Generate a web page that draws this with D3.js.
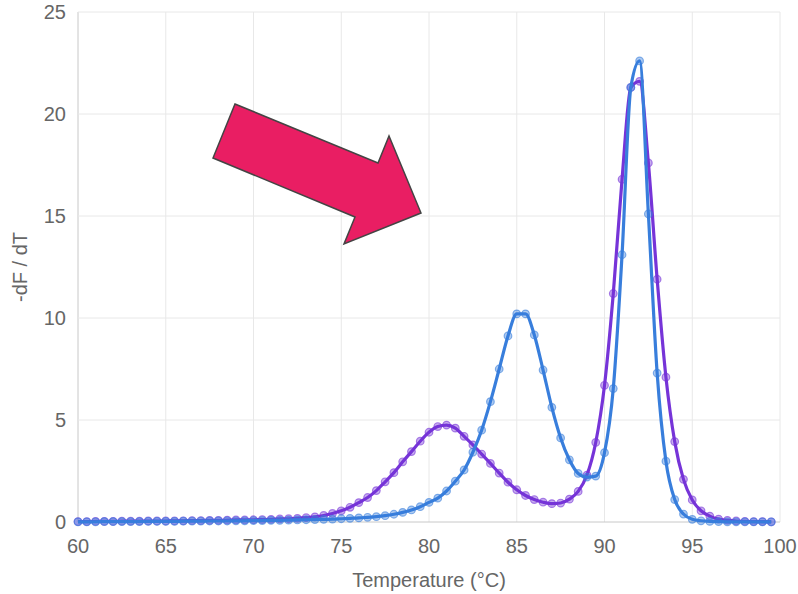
<html>
<meta charset="utf-8">
<script src="https://cdn.jsdelivr.net/npm/d3@7"></script>
<style>
  body { margin: 0; background: white; }
  text { font-family: "Liberation Sans", Arial, sans-serif; fill: #666; }
</style>
<body>
<div id="chart"></div>
<script>

// temperature in degrees C, one reading every half degree
var temps = [60,60.5,61,61.5,62,62.5,63,63.5,64,64.5,
             65,65.5,66,66.5,67,67.5,68,68.5,69,69.5,
             70,70.5,71,71.5,72,72.5,73,73.5,74,74.5,
             75,75.5,76,76.5,77,77.5,78,78.5,79,79.5,
             80,80.5,81,81.5,82,82.5,83,83.5,84,84.5,
             85,85.5,86,86.5,87,87.5,88,88.5,89,89.5,
             90,90.5,91,91.5,92,92.5,93,93.5,94,94.5,
             95,95.5,96,96.5,97,97.5,98,98.5,99,99.5]

var purpleVals = [0.02,0.02,0.03,0.03,0.03,0.04,0.04,0.04,0.05,0.05,
                  0.05,0.06,0.06,0.07,0.07,0.08,0.08,0.09,0.10,0.10,
                  0.11,0.12,0.13,0.15,0.16,0.18,0.21,0.25,0.32,0.42,
                  0.55,0.72,0.95,1.20,1.54,1.97,2.42,2.95,3.45,3.96,
                  4.40,4.68,4.75,4.60,4.20,3.78,3.33,2.87,2.40,1.95,
                  1.58,1.30,1.10,0.97,0.90,0.93,1.12,1.50,2.30,3.90,
                  6.70,11.2,16.8,21.3,21.6,17.6,11.9,7.10,3.94,2.09,
                  1.08,0.55,0.29,0.14,0.08,0.05,0.03,0.02,0.02,0.01]

var blueVals = [0.01,0.01,0.01,0.02,0.02,0.02,0.02,0.02,0.03,0.03,
                0.03,0.03,0.04,0.04,0.04,0.05,0.05,0.05,0.06,0.06,
                0.07,0.07,0.08,0.08,0.09,0.10,0.11,0.12,0.13,0.14,
                0.16,0.18,0.20,0.23,0.26,0.31,0.38,0.47,0.59,0.75,
                0.96,1.17,1.52,2.00,2.55,3.42,4.50,5.90,7.50,9.12,
                10.2,10.2,9.17,7.45,5.62,4.12,3.05,2.38,2.20,2.25,
                3.40,6.54,13.1,21.3,22.6,15.1,7.30,2.98,1.10,0.39,
                0.13,0.06,0.03,0.02,0.01,0.01,0.01,0.01,0.01,0.01]

var xTicks = [60,65,70,75,80,85,90,95,100]
var yTicks = [0,5,10,15,20,25]

var series = [
  {name:"purple", vals:purpleVals, col:"rgb(118,52,216)"},
  {name:"blue", vals:blueVals, col:"rgb(56,126,220)"}
]

var W = 798, H = 594
var margin = {left:78, right:18, top:12, bottom:72}

var svg = d3.select("#chart").append("svg").attr("width",W).attr("height",H)

var x = d3.scaleLinear().domain([60,100]).range([margin.left, W-margin.right])
var y = d3.scaleLinear().domain([0,25]).range([H-margin.bottom, margin.top])

// grid
svg.append("g").selectAll("line").data(xTicks).enter().append("line")
  .attr("x1",d=>x(d)).attr("x2",d=>x(d))
  .attr("y1",y(25)).attr("y2",y(0))
  .attr("stroke",d=> d==60 ? "#c8c8c8" : "#e8e8e8").attr("stroke-width",1)
svg.append("g").selectAll("line").data(yTicks).enter().append("line")
  .attr("x1",x(60)).attr("x2",x(100))
  .attr("y1",d=>y(d)).attr("y2",d=>y(d))
  .attr("stroke",d=> d==0 ? "#c8c8c8" : "#e8e8e8").attr("stroke-width",1)

// tick labels
svg.append("g").selectAll("text").data(yTicks).enter().append("text")
  .attr("x",x(60)-12).attr("y",d=>y(d)).attr("dy","0.35em")
  .attr("text-anchor","end").style("font-size","20px").text(d=>d)
svg.append("g").selectAll("text").data(xTicks).enter().append("text")
  .attr("x",d=>x(d)).attr("y",y(0)+24).attr("dy","0.35em")
  .attr("text-anchor","middle").style("font-size","20px").text(d=>d)

svg.append("text").attr("transform","translate(27,"+(y(12.5))+") rotate(-90)")
  .attr("text-anchor","middle").style("font-size","20px").text("-dF / dT")
svg.append("text").attr("x",(x(60)+x(100))/2).attr("y",587)
  .attr("text-anchor","middle").style("font-size","20px").text("Temperature (°C)")

var line = d3.line().curve(d3.curveMonotoneX)
  .x((d,i)=>x(temps[i])).y(d=>y(d))

series.forEach(function(s){
  var g = svg.append("g")
  g.append("path").datum(s.vals).attr("d",line)
    .attr("fill","none").attr("stroke",s.col).attr("stroke-width",3.2)
  g.selectAll("circle").data(s.vals).enter().append("circle")
    .attr("cx",(d,i)=>x(temps[i])).attr("cy",d=>y(d)).attr("r",3.8)
    .attr("fill",s.col).attr("fill-opacity",0.4)
    .attr("stroke",s.col).attr("stroke-opacity",0.6).attr("stroke-width",1.2)
})

// annotation arrow
var arrowPts = [[235,104],[378,163],[389,136],[421,213],[344,244],[355,217],[213,158]]
svg.append("polygon").attr("points",arrowPts.map(p=>p.join(",")).join(" "))
  .attr("fill","rgb(233,30,99)").attr("stroke","#444").attr("stroke-width",1.5)
  .attr("stroke-linejoin","miter")

</script>
</body>
</html>
